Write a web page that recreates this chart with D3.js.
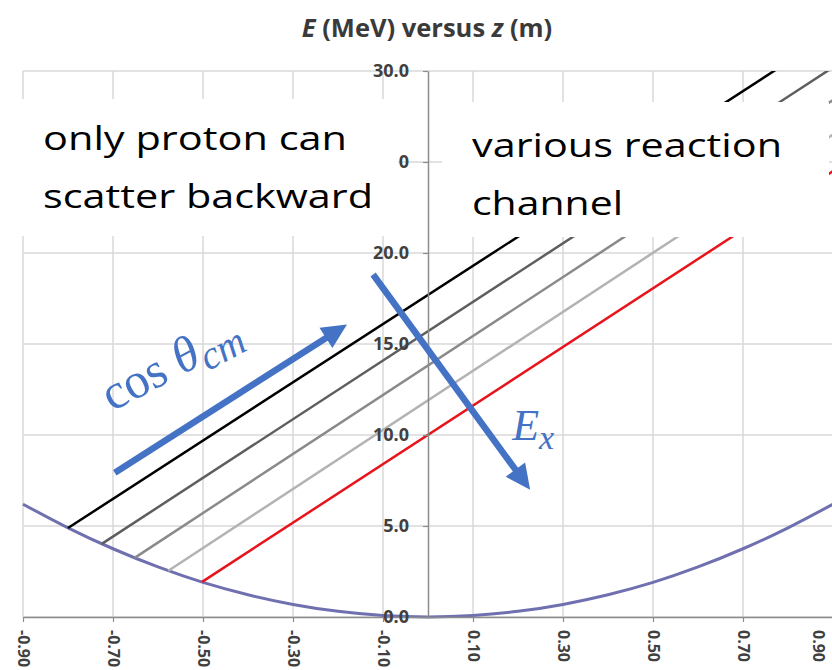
<!DOCTYPE html>
<html>
<head>
<meta charset="utf-8">
<script src="https://cdn.jsdelivr.net/npm/d3@7"></script>
<style>
  body { margin: 0; background: #ffffff; }
  svg { display: block; }
</style>
</head>
<body>
<svg id="chart" width="832" height="670"></svg>
<script>
// Kinematic envelope: lowest reachable energy at each z
const envelopeZ = [-0.9, -0.8, -0.7, -0.6, -0.5, -0.4, -0.3, -0.2, -0.1, 0.0, 0.1, 0.2, 0.3, 0.4, 0.5, 0.6, 0.7, 0.8, 0.9];
const envelopeE = [6.2, 4.9, 3.75, 2.75, 1.9, 1.22, 0.69, 0.31, 0.08, 0.0, 0.08, 0.31, 0.69, 1.22, 1.9, 2.75, 3.75, 4.9, 6.2];

// Reaction channels: straight E-z lines from the envelope upward
const channelStartZ = [-0.80, -0.725, -0.652, -0.577, -0.502];
const channelStartE = [4.89, 4.02, 3.25, 2.54, 1.93];
const channelEndZ   = [0.90, 0.90, 0.90, 0.90, 0.90];
const channelEndE   = [32.1, 30.2, 28.4, 26.5, 24.5];
const channelColors = ["#000000", "#5e5e5e", "#8a8a8a", "#b3b3b3", "#e8141c"];

// Axis ticks
const xTickValues = [-0.9, -0.7, -0.5, -0.3, -0.1, 0.1, 0.3, 0.5, 0.7, 0.9];
const yTickValues = [0, 5, 10, 15, 20, 25, 30];

// Text
const titleParts = [
  { t: "E", italic: true },
  { t: " (MeV) versus ", italic: false },
  { t: "z", italic: true },
  { t: " (m)", italic: false }
];
const leftNote  = ["only proton can", "scatter backward"];
const rightNote = ["various reaction", "channel"];

const W = 832, H = 670;
const svg = d3.select("#chart");

const x = d3.scaleLinear().domain([-0.9, 0.9]).range([23, 833]);
const y = d3.scaleLinear().domain([0, 30]).range([617, 71]);

const sans = "'Open Sans', 'DejaVu Sans', sans-serif";
const serif = "'Liberation Serif', 'DejaVu Serif', serif";
const blue = "#4472c4";

svg.append("rect").attr("width", W).attr("height", H).attr("fill", "#ffffff");

// Plot area clip
svg.append("defs").append("clipPath").attr("id", "plot-clip")
  .append("rect")
  .attr("x", x(-0.9) - 3)
  .attr("y", y(30))
  .attr("width", x(0.9) - x(-0.9) + 6)
  .attr("height", y(0) - y(30) + 4);

// Gridlines
const grid = svg.append("g").attr("stroke", "#d9d9d9").attr("stroke-width", 1.5);
grid.selectAll("line.gv").data(xTickValues).join("line").attr("class", "gv")
  .attr("x1", d => x(d)).attr("x2", d => x(d))
  .attr("y1", y(0)).attr("y2", y(30));
grid.selectAll("line.gh").data(yTickValues).join("line").attr("class", "gh")
  .attr("x1", x(-0.9)).attr("x2", x(0.9))
  .attr("y1", d => y(d)).attr("y2", d => y(d));

// Series
const series = svg.append("g").attr("clip-path", "url(#plot-clip)");

const envelope = envelopeZ.map((z, i) => [z, envelopeE[i]]);
series.append("path")
  .datum(envelope)
  .attr("fill", "none")
  .attr("stroke", "#7070b0")
  .attr("stroke-width", 3)
  .attr("d", d3.line().x(d => x(d[0])).y(d => y(d[1])).curve(d3.curveNatural));

const channels = channelStartZ.map((z, i) => ({
  pts: [[z, channelStartE[i]], [channelEndZ[i], channelEndE[i]]],
  color: channelColors[i]
}));
series.selectAll("path.channel").data(channels).join("path")
  .attr("class", "channel")
  .attr("fill", "none")
  .attr("stroke", d => d.color)
  .attr("stroke-width", 2.5)
  .attr("d", d => d3.line().x(p => x(p[0])).y(p => y(p[1]))(d.pts));

// Axes
const axisColor = "#8c8c8c";
const xAxis = d3.axisBottom(x).tickValues(xTickValues).tickSize(5).tickSizeOuter(0)
  .tickFormat(d => d.toFixed(2));
const gx = svg.append("g").attr("transform", `translate(0,${y(0)})`).call(xAxis);
gx.select(".domain").attr("stroke", axisColor).attr("stroke-width", 1.5);
gx.selectAll(".tick line").attr("stroke", axisColor).attr("stroke-width", 1.2);
gx.selectAll(".tick text")
  .attr("transform", d => {
    // keep the last label inside the page edge
    const shift = Math.min(0, (W - 14) - x(d));
    return `translate(${shift},0) rotate(90)`;
  })
  .attr("text-anchor", "start")
  .attr("x", 13).attr("y", 0).attr("dy", "0.35em")
  .attr("font-family", sans).attr("font-size", 16).attr("font-weight", 700)
  .attr("fill", "#404040");

const yAxis = d3.axisLeft(y).tickValues(yTickValues).tickSize(5).tickSizeOuter(0)
  .tickPadding(14).tickFormat(d3.format(".1f"));
const gy = svg.append("g").attr("transform", `translate(${x(0)},0)`).call(yAxis);
gy.select(".domain").attr("stroke", axisColor).attr("stroke-width", 1.5);
gy.selectAll(".tick line").attr("stroke", axisColor).attr("stroke-width", 1.2);
gy.selectAll(".tick text")
  .attr("font-family", sans).attr("font-size", 18).attr("font-weight", 700)
  .attr("fill", "#404040");

// Title
const title = svg.append("text")
  .attr("x", 427).attr("y", 37)
  .attr("text-anchor", "middle")
  .attr("font-family", sans).attr("font-size", 25.5).attr("font-weight", 700)
  .attr("fill", "#3a3a3a");
title.selectAll("tspan").data(titleParts).join("tspan")
  .attr("font-style", d => d.italic ? "italic" : "normal")
  .text(d => d.t);

// Note boxes
function noteBox(rx, ry, rw, rh, lines, tx, baselines, widths) {
  svg.append("rect").attr("x", rx).attr("y", ry).attr("width", rw).attr("height", rh)
    .attr("fill", "#ffffff");
  lines.forEach((s, i) => {
    svg.append("text")
      .attr("x", tx).attr("y", baselines[i])
      .attr("font-family", sans).attr("font-size", 33)
      .attr("fill", "#000000")
      .attr("textLength", widths[i]).attr("lengthAdjust", "spacingAndGlyphs")
      .text(s);
  });
}
noteBox(0, 99, 398, 137, leftNote, 43, [150, 208], [304, 330]);
noteBox(442, 102, 387, 135, rightNote, 472, [157, 215], [310, 151]);

// Arrows
function arrow(z0, e0, z1, e1) {
  const x0 = x(z0), y0 = y(e0), x1 = x(z1), y1 = y(e1);
  const len = Math.hypot(x1 - x0, y1 - y0);
  const ux = (x1 - x0) / len, uy = (y1 - y0) / len;
  const headLen = 25, headHalf = 12;
  const bx = x1 - ux * headLen, by = y1 - uy * headLen;
  svg.append("line")
    .attr("x1", x0).attr("y1", y0).attr("x2", bx + ux * 2).attr("y2", by + uy * 2)
    .attr("stroke", blue).attr("stroke-width", 6.5);
  svg.append("polygon")
    .attr("points", [
      [x1, y1],
      [bx - uy * headHalf, by + ux * headHalf],
      [bx + uy * headHalf, by - ux * headHalf]
    ].map(p => p.join(",")).join(" "))
    .attr("fill", blue);
}
arrow(-0.696, 7.93, -0.18, 16.07);
arrow(-0.122, 18.82, 0.227, 6.99);

// cos θ_cm label
const cosLabel = svg.append("text")
  .attr("transform", `translate(${x(-0.702)},${y(11.26)}) rotate(-28)`)
  .attr("font-family", serif).attr("font-size", 50).attr("fill", blue);
cosLabel.append("tspan").text("cos ");
cosLabel.append("tspan").attr("font-style", "italic").text("θ");
cosLabel.append("tspan").attr("font-style", "italic").attr("font-size", 40).attr("dy", 9).text("cm");

// E_x label
const exLabel = svg.append("text")
  .attr("x", x(0.187)).attr("y", y(9.73))
  .attr("font-family", serif).attr("font-size", 44).attr("fill", blue);
exLabel.append("tspan").attr("font-style", "italic").text("E");
exLabel.append("tspan").attr("font-style", "italic").attr("font-size", 34).attr("dy", 9).text("x");
</script>
</body>
</html>
